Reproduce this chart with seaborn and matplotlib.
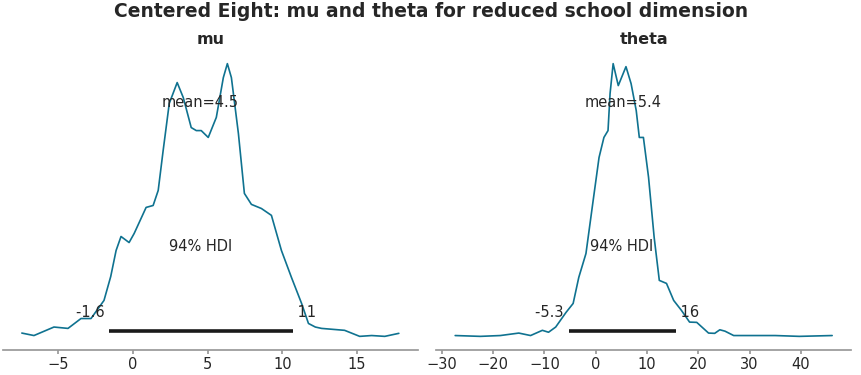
import numpy as np
import pandas as pd
import matplotlib
matplotlib.use("Agg")
import matplotlib.pyplot as plt
import seaborn as sns

# posterior density curves (relative heights)
mu_x = [-7.45, -6.64, -5.30, -4.36, -3.49, -2.82, -1.95, -1.50, -1.14, -0.81, -0.27,
        0.07, 0.87, 1.34, 1.68, 2.01, 2.42, 2.95, 3.36, 3.89, 4.23,
        4.56, 5.03, 5.57, 6.04, 6.31, 6.58, 7.05, 7.45, 7.92, 8.59,
        9.26, 9.93, 10.60, 11.28, 11.74, 12.20, 12.62, 14.16, 15.17, 15.97, 16.85, 17.79]
mu_y = [0.014, 0.005, 0.036, 0.031, 0.067, 0.067, 0.133, 0.220, 0.315, 0.366, 0.344,
        0.377, 0.472, 0.479, 0.534, 0.679, 0.851, 0.927, 0.872, 0.763, 0.752,
        0.752, 0.727, 0.800, 0.945, 0.996, 0.945, 0.741, 0.523, 0.483, 0.468,
        0.443, 0.315, 0.217, 0.122, 0.049, 0.036, 0.031, 0.024, 0.002, 0.005, 0.002, 0.013]

theta_x = [-27.4, -22.5, -18.6, -15.0, -12.7, -10.4, -9.2, -7.8, -5.8, -4.4,
           -3.3, -1.9, -0.5, 0.65, 1.6, 2.4, 2.8, 3.4, 4.4, 5.9,
           6.9, 7.9, 8.5, 9.3, 10.3, 11.4, 12.4, 13.8, 15.2, 16.7,
           18.3, 19.7, 22.0, 23.2, 24.2, 25.2, 26.9, 30.5, 35.0, 39.7, 46.1]
theta_y = [0.005, 0.002, 0.005, 0.014, 0.005, 0.024, 0.017, 0.036, 0.089, 0.122,
           0.217, 0.304, 0.497, 0.654, 0.727, 0.752, 0.887, 0.996, 0.916, 0.985,
           0.923, 0.825, 0.727, 0.727, 0.582, 0.362, 0.206, 0.195, 0.133, 0.097,
           0.054, 0.053, 0.014, 0.013, 0.026, 0.021, 0.005, 0.005, 0.005, 0.002, 0.005]

var_names = ["mu", "theta"]
means = [4.5, 5.4]
hdis = [[-1.6, 10.7], [-5.3, 15.6]]
hdi_prob = 0.94
line_color = "#0f7290"


def round_num(n, sig=2):
    # two significant figures, like arviz does
    n = float(n)
    digits = sig - int(np.floor(np.log10(abs(n)))) - 1
    val = round(n, digits)
    if digits <= 0:
        return str(int(val))
    return str(val)


sns.set_theme(style="white")
plt.rcParams['font.family'] = ['DejaVu Sans']

fig, axes = plt.subplots(1, 2, figsize=(8.62, 3.75), dpi=100)
fig.subplots_adjust(left=3/862, right=851/862, bottom=1-350/375, top=1-50/375, wspace=0.045)

curves = [(mu_x, mu_y), (theta_x, theta_y)]
for ax, name, (xs, ys), mean, hdi in zip(axes, var_names, curves, means, hdis):
    df = pd.DataFrame({"x": xs, "density": ys})
    sns.lineplot(data=df, x="x", y="density", ax=ax, color=line_color, lw=1.2, sort=False)
    plot_height = ax.get_ylim()[1]

    ax.plot(hdi, [plot_height * 0.02] * 2, lw=2.6, color="k", solid_capstyle="butt")
    ax.text(hdi[0], plot_height * 0.07, round_num(hdi[0]) + " ", size=10.5, ha="right", color="#262626")
    ax.text(hdi[1], plot_height * 0.07, " " + round_num(hdi[1]), size=10.5, ha="left", color="#262626")
    ax.text((hdi[0] + hdi[1]) / 2, plot_height * 0.3, f"{int(hdi_prob*100)}% HDI", size=10.5, ha="center", color="#262626")
    ax.text(mean, plot_height * 0.8, f"mean={mean}", size=10.5, ha="center", color="#262626")

    ax.set_title(name, fontsize=11.5, fontweight="bold", pad=4, color="#262626")
    ax.set_xlabel("")
    ax.set_ylabel("")
    ax.set_yticks([])
    sns.despine(ax=ax, left=True)
    ax.spines["bottom"].set_color("#999999")
    ax.tick_params(axis="x", bottom=True, length=3, color="#999999", labelsize=10.5, labelcolor="#262626", pad=2)

fig.suptitle("Centered Eight: mu and theta for reduced school dimension",
             fontsize=13.5, fontweight="bold", y=0.995, color="#262626")

fig.savefig("out.png", dpi=100)
